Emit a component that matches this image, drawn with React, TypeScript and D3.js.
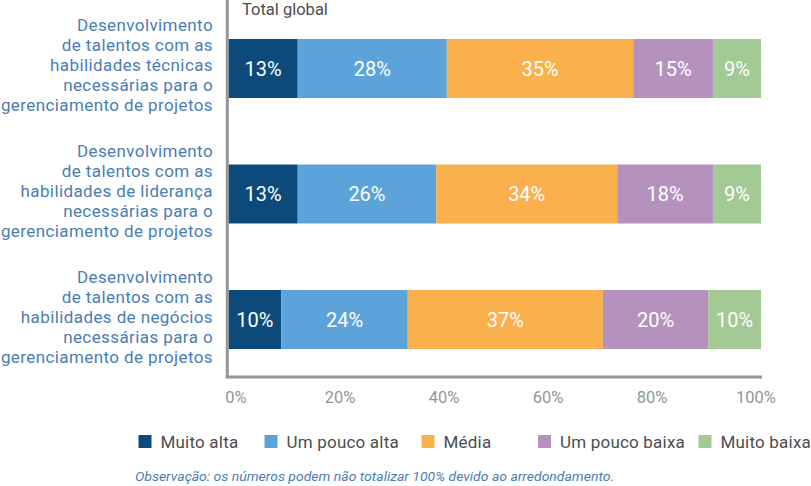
import React from "react";
import * as d3 from "d3";

// Response categories (legend order) and their colours
const seriesNames = ["Muito alta", "Um pouco alta", "Média", "Um pouco baixa", "Muito baixa"];
const seriesColors = ["#0d4a7c", "#5ba3d9", "#fbb04e", "#b592bd", "#a3c994"];

// One row per competency; each label is wrapped over five lines
const categoryLines = [
  ["Desenvolvimento", "de talentos com as", "habilidades técnicas", "necessárias para o", "gerenciamento de projetos"],
  ["Desenvolvimento", "de talentos com as", "habilidades de liderança", "necessárias para o", "gerenciamento de projetos"],
  ["Desenvolvimento", "de talentos com as", "habilidades de negócios", "necessárias para o", "gerenciamento de projetos"],
];

// Percentages per series, one value per row
const muitoAlta = [13, 13, 10];
const umPoucoAlta = [28, 26, 24];
const media = [35, 34, 37];
const umPoucoBaixa = [15, 18, 20];
const muitoBaixa = [9, 9, 10];

const tickValues = [0, 20, 40, 60, 80, 100];
const panelTitle = "Total global";
const footnote = "Observação: os números podem não totalizar 100% devido ao arredondamento.";

const FONT = "Roboto, 'Open Sans', sans-serif";

export default function App() {
  const width = 811;
  const height = 486;

  const seriesValues = [muitoAlta, umPoucoAlta, media, umPoucoBaixa, muitoBaixa];
  const rows = categoryLines.map((_, i) => {
    const row: Record<string, number> = { index: i };
    seriesNames.forEach((name, s) => (row[name] = seriesValues[s][i]));
    return row;
  });

  // Each bar is the share of its own total, so rounded labels still fill the row
  const stacked = d3.stack<Record<string, number>>().keys(seriesNames).offset(d3.stackOffsetExpand)(rows);

  const x = d3.scaleLinear().domain([0, 1]).range([228.5, 761]);
  const y = d3
    .scaleBand<number>()
    .domain(categoryLines.map((_, i) => i))
    .range([39, 349])
    .paddingInner(0.53);

  // Tick labels sit on a slightly narrower track than the bars
  const tickX = d3.scaleLinear().domain([0, 100]).range([236, 756]);

  const color = d3.scaleOrdinal<string, string>().domain(seriesNames).range(seriesColors);

  const axisColor = "#939598";
  const labelBlue = "#4a7db3";

  const legendX = [138.5, 264.5, 421.5, 538, 698.5];

  return (
    <svg
      width={width}
      height={height}
      style={{ position: "absolute", left: 0, top: 0, background: "#ffffff" }}
      fontFamily={FONT}
    >
      {/* Category labels, right-aligned beside the axis */}
      {categoryLines.map((lines, i) => {
        const cy = (y(i) ?? 0) + y.bandwidth() / 2;
        return (
          <g key={"cat" + i}>
            {lines.map((line, j) => (
              <text
                key={j}
                x={213}
                y={cy + 3 + (j - 2) * 20}
                textAnchor="end"
                fill={labelBlue}
                fontSize={17}
                letterSpacing={0.4}
              >
                {line}
              </text>
            ))}
          </g>
        );
      })}

      <text x={242} y={15} fill="#4d4d4f" fontSize={16.5}>
        {panelTitle}
      </text>

      {/* Stacked segments */}
      {stacked.map((layer) => (
        <g key={layer.key} fill={color(layer.key)}>
          {layer.map((d, i) => (
            <rect
              key={i}
              x={x(d[0])}
              y={y(i)}
              width={x(d[1]) - x(d[0])}
              height={y.bandwidth()}
            />
          ))}
        </g>
      ))}

      {/* Value labels inside each segment */}
      {stacked.map((layer) =>
        layer.map((d, i) => (
          <text
            key={layer.key + i}
            x={(x(d[0]) + x(d[1])) / 2}
            y={(y(i) ?? 0) + y.bandwidth() / 2}
            dy="0.36em"
            textAnchor="middle"
            fill="#ffffff"
            fontSize={20}
          >
            {d.data[layer.key as string]}%
          </text>
        ))
      )}

      {/* Axis frame */}
      <line x1={227.3} x2={227.3} y1={0} y2={378.5} stroke={axisColor} strokeWidth={3} />
      <line x1={225.8} x2={762} y1={377} y2={377} stroke={axisColor} strokeWidth={3} />

      {tickValues.map((t) => (
        <text key={t} x={tickX(t)} y={403} textAnchor="middle" fill={axisColor} fontSize={16.5}>
          {t}%
        </text>
      ))}

      {/* Legend */}
      {seriesNames.map((name, i) => (
        <g key={name} transform={`translate(${legendX[i]},435)`}>
          <rect width={13} height={13} fill={color(name)} />
          <text x={22} y={6.5} dy="0.36em" fill="#4d4d4f" fontSize={17} letterSpacing={0.2}>
            {name}
          </text>
        </g>
      ))}

      <text
        x={135}
        y={481}
        fill={labelBlue}
        fontSize={13.5}
        fontStyle="italic"
        textLength={479}
        lengthAdjust="spacingAndGlyphs"
      >
        {footnote}
      </text>
    </svg>
  );
}
